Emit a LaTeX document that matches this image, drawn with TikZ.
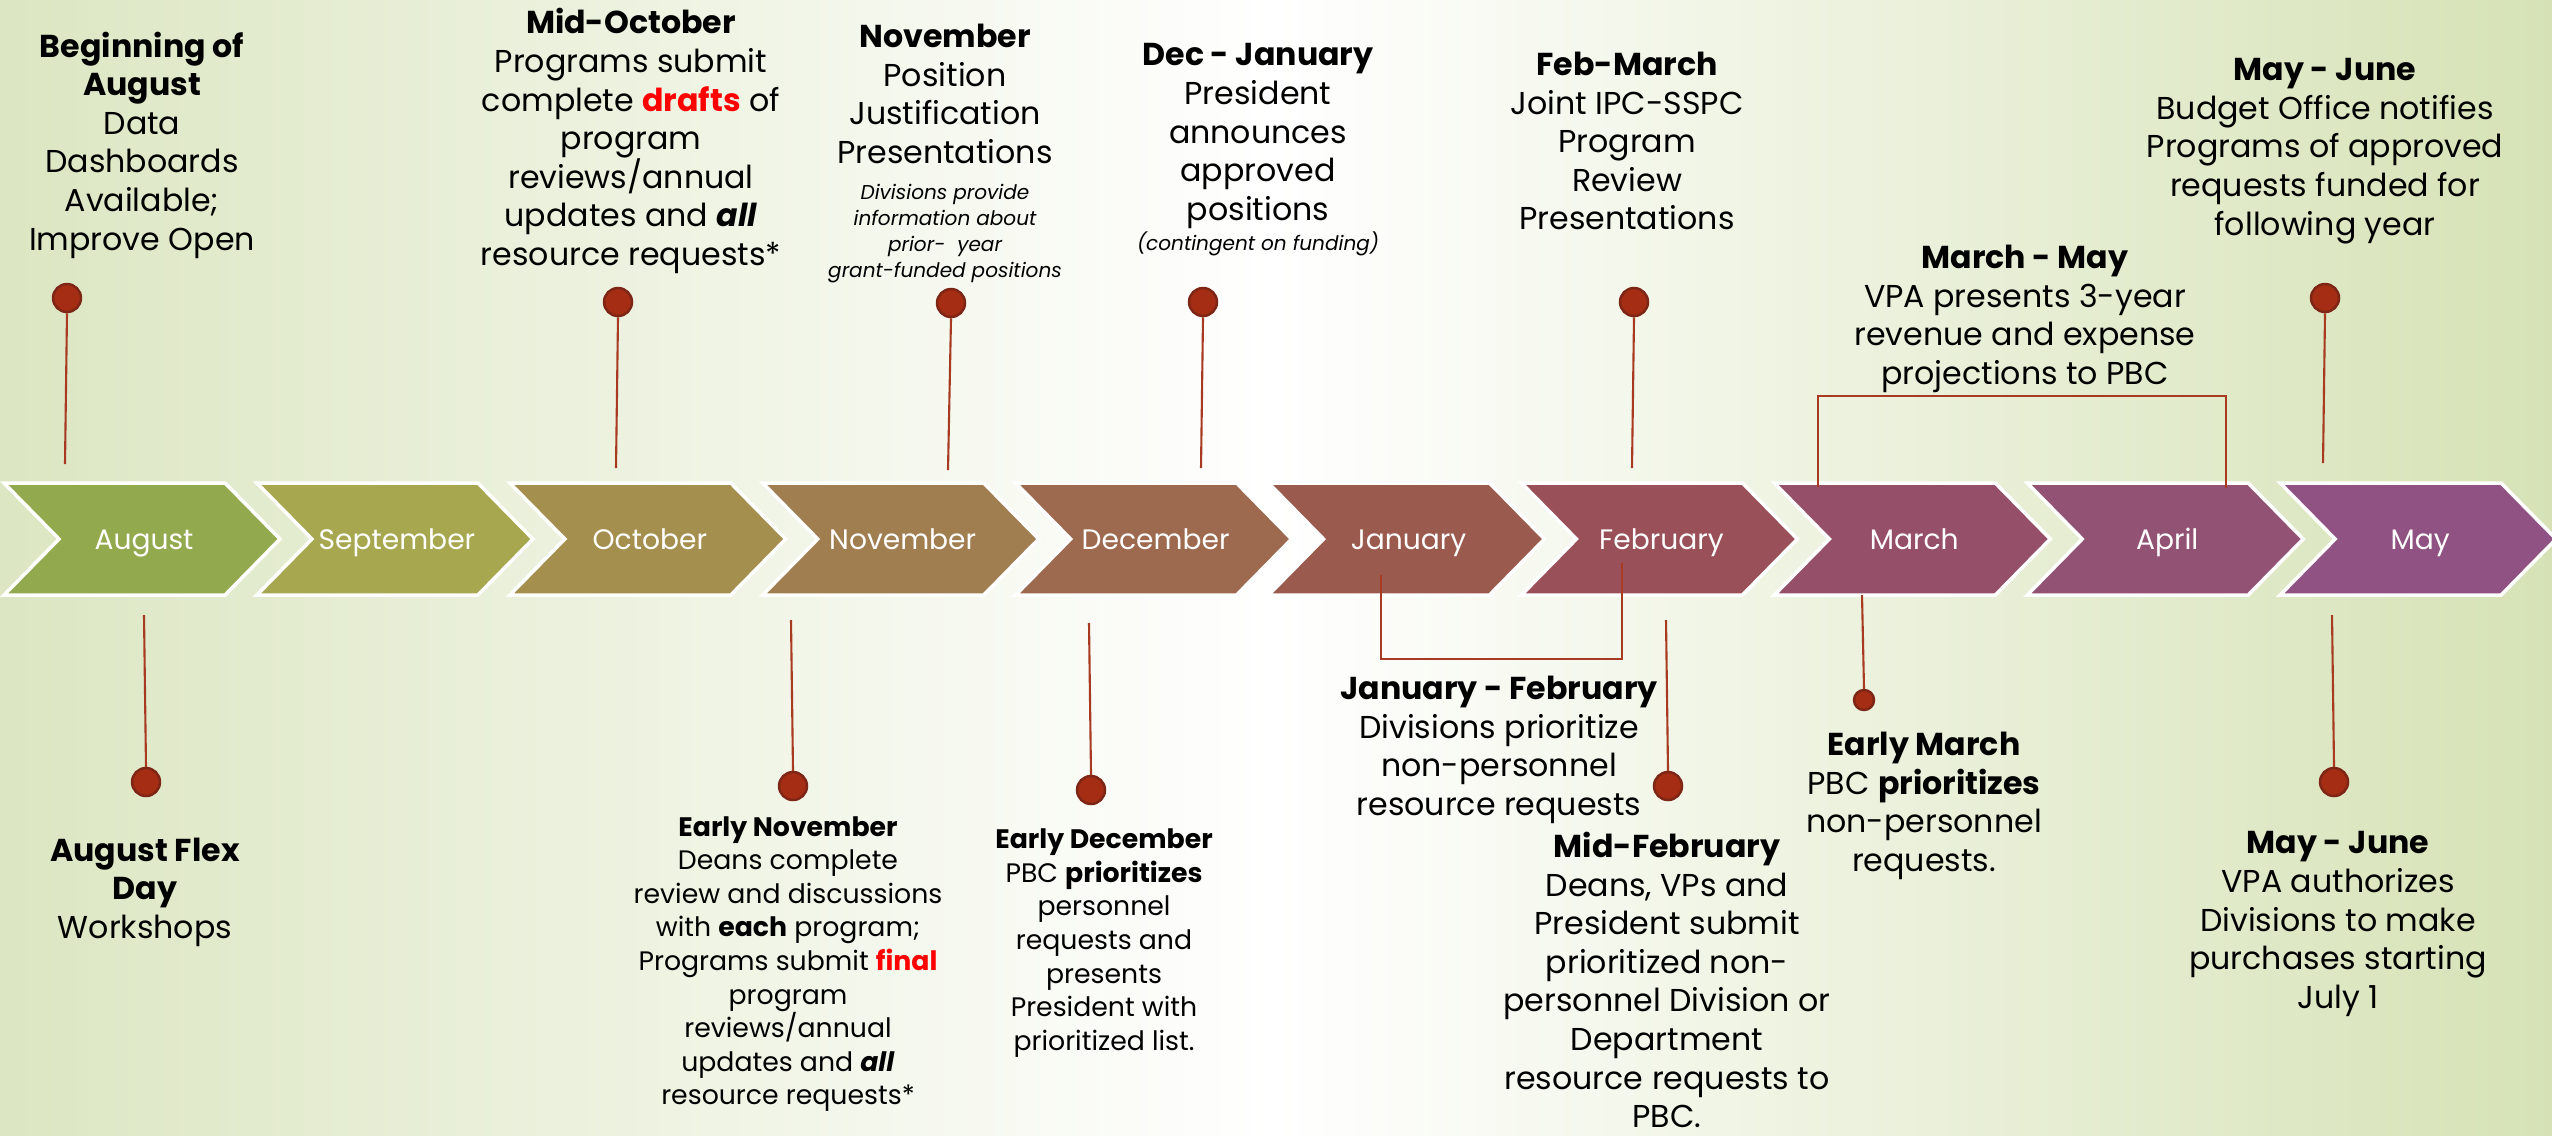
\documentclass[tikz,border=0pt]{standalone}
\usepackage{fontspec}
\setmainfont{Poppins}
\usepackage{xcolor}
\usepackage{tikz}

\definecolor{bgleft}{HTML}{DCE6C2}
\definecolor{bgright}{HTML}{D6E2B6}
\definecolor{pinred}{HTML}{A42D14}
\definecolor{pinedge}{HTML}{7E2616}
\definecolor{linered}{HTML}{A83A22}
\definecolor{chAug}{HTML}{93A94E}
\definecolor{chSep}{HTML}{A6A74E}
\definecolor{chOct}{HTML}{A58F4E}
\definecolor{chNov}{HTML}{A17E50}
\definecolor{chDec}{HTML}{9D6A50}
\definecolor{chJan}{HTML}{9B5A4E}
\definecolor{chFeb}{HTML}{995058}
\definecolor{chMar}{HTML}{964F68}
\definecolor{chApr}{HTML}{925274}
\definecolor{chMay}{HTML}{8F5282}

\tikzset{
    chev/.style={draw=white, line width=1pt, line join=miter},
    monthlabel/.style={text=white, font=\fontsize{8}{10}\selectfont, inner sep=0pt, anchor=base},
    pinhead/.style={circle, draw=pinedge, fill=pinred, line width=0.7pt, minimum size=0.28cm, inner sep=0pt},
    smallhead/.style={pinhead, minimum size=0.2cm},
    pinline/.style={draw=linered, line width=0.6pt},
    eventtext/.style={align=center, inner sep=0pt, font=\fontsize{9}{10.97}\selectfont},
    smalltext/.style={align=center, inner sep=0pt, font=\fontsize{7.6}{9.55}\selectfont},
    tinytext/.style={align=center, inner sep=0pt, font=\fontsize{5.7}{7.4}\selectfont\itshape},
}

\begin{document}
\begin{tikzpicture}[x=0.01cm, y=-0.01cm]
        \useasboundingbox (0,0) rectangle (2552,1135);
        \shade[left color=bgleft, right color=bgright, middle color=white] (0,0) rectangle (2552,1135);

        % month arrows
        \foreach \m/\c [count=\i from 0] in {August/chAug, September/chSep, October/chOct, November/chNov,
                December/chDec, January/chJan, February/chFeb, March/chMar, April/chApr, May/chMay} {
            \draw[chev, fill=\c] ({4+252.9*\i},483) -- ++(221,0) -- ++(55,56) -- ++(-55,56)
                -- ++(-221,0) -- ++(55,-56) -- cycle;
            \node[monthlabel] (month-\i) at ({144+252.9*\i},549) {\m};
        }

        % events above the arrows
        \node[eventtext] (aug-text) at (142,145)
            {\textbf{Beginning of}\\\textbf{August}\\Data\\Dashboards\\Available;\\Improve Open};
        \node[eventtext] (oct-text) at (631,141)
            {\textbf{Mid-October}\\Programs submit\\complete \textcolor{red}{\textbf{drafts}} of\\program\\reviews/annual\\updates and \textbf{\textit{all}}\\resource requests*};
        \node[eventtext] (nov-text) at (945,94)
            {\textbf{November}\\Position\\Justification\\Presentations};
        \node[tinytext] (nov-note) at (945,234)
            {Divisions provide\\information about\\prior-\ \ year\\grant-funded positions};
        \node[eventtext] (dec-text) at (1258,136)
            {\textbf{Dec - January}\\President\\announces\\approved\\positions};
        \node[tinytext] (dec-note) at (1258,244) {(contingent on funding)};
        \node[eventtext] (feb-text) at (1627,141)
            {\textbf{Feb-March}\\Joint IPC-SSPC\\Program\\Review\\Presentations};
        \node[eventtext] (mar-text) at (2025,319)
            {\textbf{March - May}\\VPA presents 3-year\\revenue and expense\\projections to PBC};
        \node[eventtext] (may-text) at (2325,151)
            {\textbf{May - June}\\Budget Office notifies\\Programs of approved\\requests funded for\\following year};

        % events below the arrows
        \node[eventtext] (flex-text) at (145,892)
            {\textbf{August Flex}\\\textbf{Day}\\Workshops};
        \node[smalltext] (enov-text) at (788,964)
            {\textbf{Early November}\\Deans complete\\review and discussions\\with \textbf{each} program;\\Programs submit \textcolor{red}{\textbf{final}}\\program\\reviews/annual\\updates and \textbf{\textit{all}}\\resource requests*};
        \node[smalltext] (edec-text) at (1104,943)
            {\textbf{Early December}\\PBC \textbf{prioritizes}\\personnel\\requests and\\presents\\President with\\prioritized list.};
        \node[eventtext] (janfeb-text) at (1499,750)
            {\textbf{January - February}\\Divisions prioritize\\non-personnel\\resource requests};
        \node[eventtext] (midfeb-text) at (1667,980)
            {\textbf{Mid-February}\\Deans, VPs and\\President submit\\prioritized non-\\personnel Division or\\Department\\resource requests to\\PBC.};
        \node[eventtext] (emar-text) at (1924,806)
            {\textbf{Early March}\\PBC \textbf{prioritizes}\\non-personnel\\requests.};
        \node[eventtext] (july-text) at (2338,924)
            {\textbf{May - June}\\VPA authorizes\\Divisions to make\\purchases starting\\July 1};

        % pins
        \node[pinhead] (aug-pin)   at (67,298)   {};
        \node[pinhead] (oct-pin)   at (618,302)  {};
        \node[pinhead] (nov-pin)   at (951,303)  {};
        \node[pinhead] (dec-pin)   at (1203,302) {};
        \node[pinhead] (feb-pin)   at (1634,302) {};
        \node[pinhead] (may-pin)   at (2325,298) {};
        \node[pinhead] (flex-pin)  at (146,782)  {};
        \node[pinhead] (enov-pin)  at (793,786)  {};
        \node[pinhead] (edec-pin)  at (1091,790) {};
        \node[pinhead] (midfeb-pin) at (1668,786) {};
        \node[smallhead] (emar-pin) at (1864,700) {};
        \node[pinhead] (july-pin)  at (2334,782) {};

        \coordinate (aug-end)    at (65,464);
        \coordinate (oct-end)    at (616,468);
        \coordinate (nov-end)    at (948,470);
        \coordinate (dec-end)    at (1201,468);
        \coordinate (feb-end)    at (1632,468);
        \coordinate (may-end)    at (2323,463);
        \coordinate (flex-end)   at (144,615);
        \coordinate (enov-end)   at (791,620);
        \coordinate (edec-end)   at (1089,623);
        \coordinate (midfeb-end) at (1666,620);
        \coordinate (emar-end)   at (1862,595);
        \coordinate (july-end)   at (2332,615);

        \foreach \p in {aug, oct, nov, dec, feb, may}
            \draw[pinline] (\p-pin.south) -- (\p-end);
        \foreach \p in {flex, enov, edec, midfeb, emar, july}
            \draw[pinline] (\p-pin.north) -- (\p-end);

        % brackets spanning two months
        \coordinate (jan-low)  at (1381,575);
        \coordinate (feb-low)  at (1622,563);
        \coordinate (mar-high) at (1818,487);
        \coordinate (apr-high) at (2226,488);
        \draw[pinline, line width=0.7pt] (jan-low) -- (jan-low |- 0,659) -- (feb-low |- 0,659) -- (feb-low);
        \draw[pinline, line width=0.7pt] (mar-high) -- (mar-high |- 0,396) -- (apr-high |- 0,396) -- (apr-high);
    \end{tikzpicture}
\end{document}
